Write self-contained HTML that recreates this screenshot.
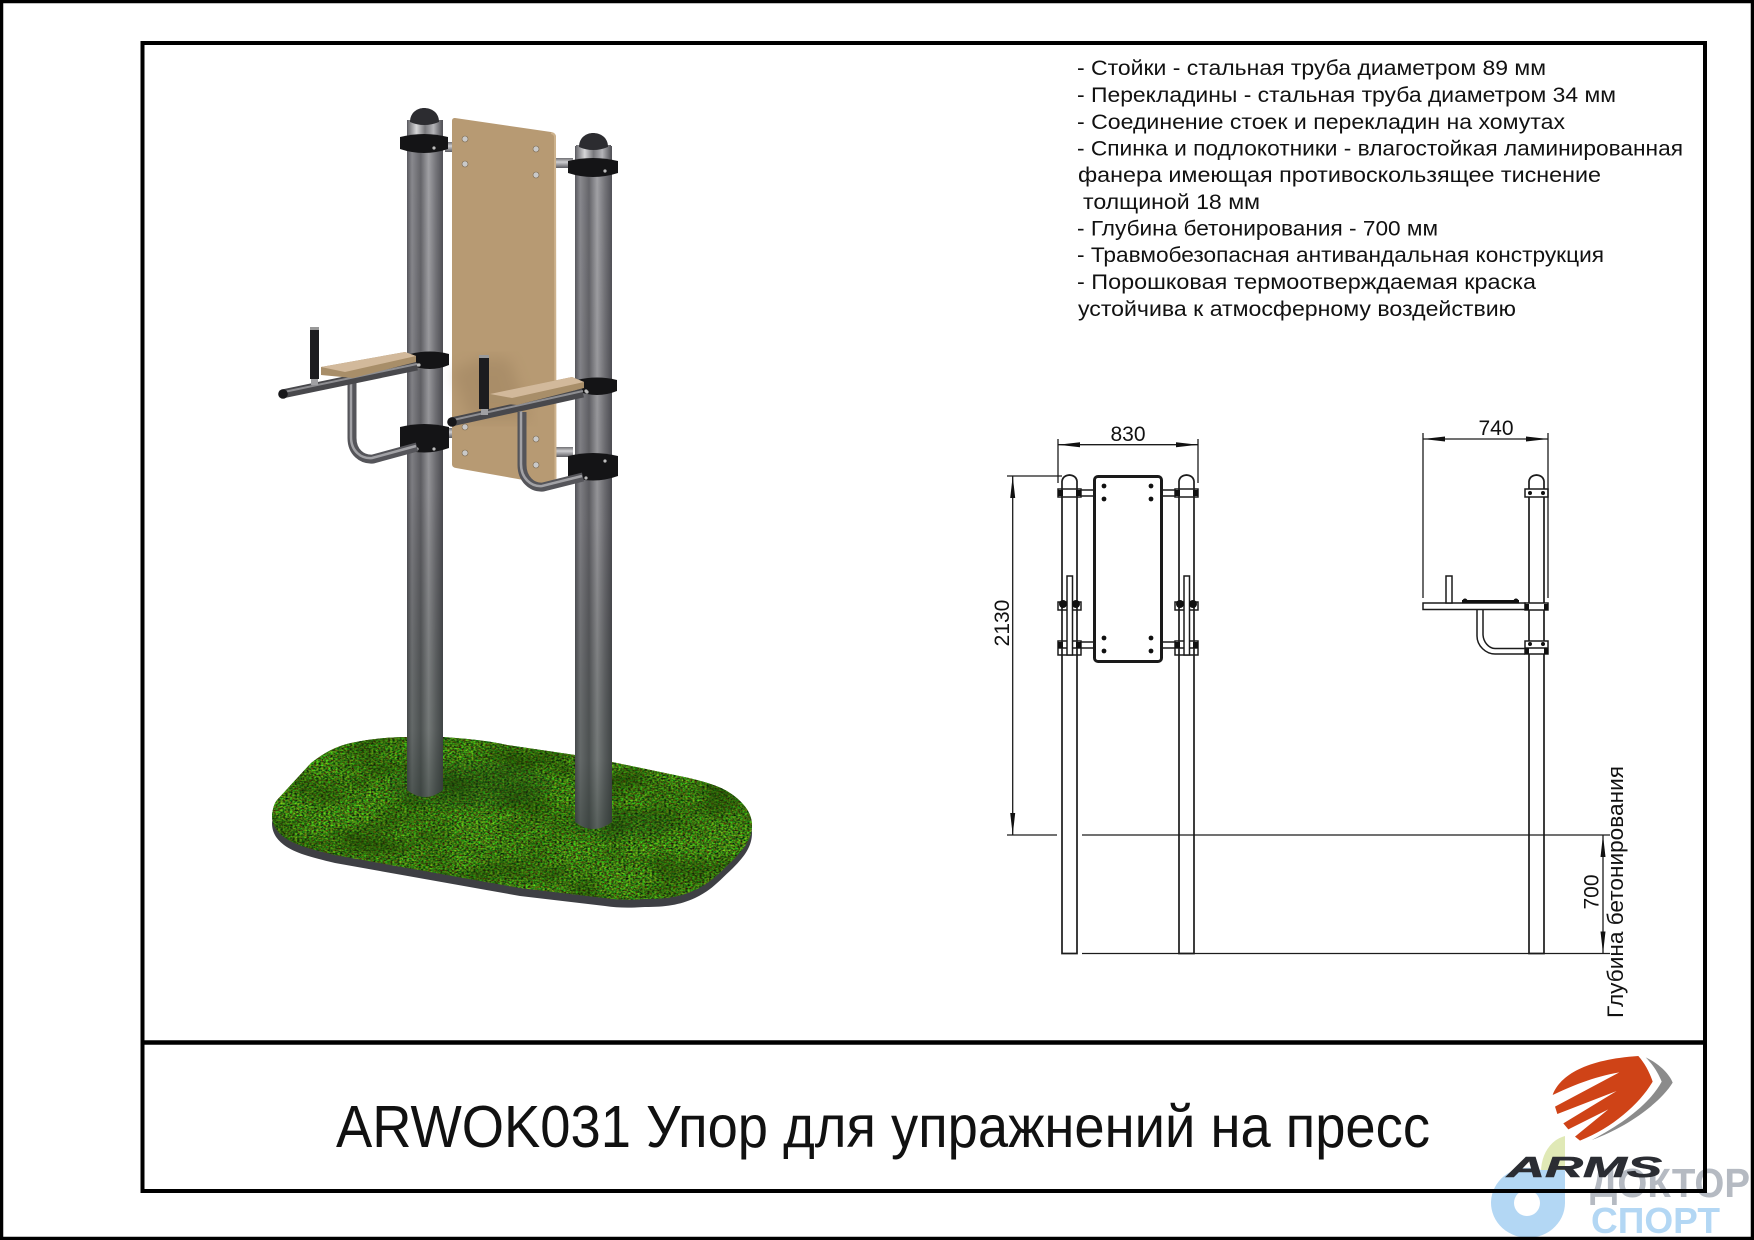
<!DOCTYPE html>
<html lang="ru"><head><meta charset="utf-8"><title>ARWOK031</title>
<style>html,body{margin:0;padding:0;background:#fff}svg{display:block}text{font-family:"Liberation Sans","DejaVu Sans",sans-serif;fill:#111}</style></head>
<body>
<svg xmlns="http://www.w3.org/2000/svg" width="1754" height="1240" viewBox="0 0 1754 1240">
<defs>
<linearGradient id="post" x1="0" x2="1" y1="0" y2="0">
<stop offset="0" stop-color="#5a5a60"/><stop offset=".14" stop-color="#8a8a8f"/><stop offset=".38" stop-color="#66666b"/><stop offset=".6" stop-color="#a2a2a6"/><stop offset=".8" stop-color="#76767b"/><stop offset="1" stop-color="#525258"/>
</linearGradient>
<linearGradient id="fade" x1="0" x2="0" y1="0" y2="1">
<stop offset="0" stop-color="#000" stop-opacity="0"/><stop offset=".55" stop-color="#000" stop-opacity=".1"/><stop offset=".9" stop-color="#1c2a20" stop-opacity=".35"/><stop offset="1" stop-color="#1c2a20" stop-opacity=".55"/>
</linearGradient>
<linearGradient id="shine" x1="0" x2="1" y1="0" y2="0">
<stop offset="0" stop-color="#6c6c70"/><stop offset=".25" stop-color="#d6d6d8"/><stop offset=".5" stop-color="#77777b"/><stop offset=".75" stop-color="#b4b4b8"/><stop offset="1" stop-color="#55555a"/>
</linearGradient>
<linearGradient id="link" x1="0" x2="0" y1="0" y2="1">
<stop offset="0" stop-color="#6f6f73"/><stop offset=".4" stop-color="#cfcfd2"/><stop offset="1" stop-color="#5b5b60"/>
</linearGradient>
<filter id="grassF" x="0" y="0" width="100%" height="100%" color-interpolation-filters="sRGB">
<feTurbulence type="fractalNoise" baseFrequency="0.42 0.6" numOctaves="3" seed="7"/>
<feColorMatrix type="matrix" values=".75 .45 0 0 -.36  0 1.35 0 0 -.2  0 .1 0 0 .02  0 0 0 0 1"/>
</filter>
<filter id="blotF" x="0" y="0" width="100%" height="100%" color-interpolation-filters="sRGB">
<feTurbulence type="fractalNoise" baseFrequency="0.02 0.035" numOctaves="2" seed="4"/>
<feColorMatrix type="matrix" values="0 0 0 0 .1  0 0 0 0 .22  0 0 0 0 0  2.4 0 0 0 -.95"/>
</filter>
<filter id="soft"><feGaussianBlur stdDeviation="7"/></filter>
<clipPath id="grassClip"><path id="grassP" d="M409,737 L443,737 C470,739 490,741 507,745 L575,755 L612,762 L689,778 C705,782 720,786 730,793 C742,801 752,812 752,825 C752,838 745,848 733,860 C720,872 712,882 695,890 C680,897 665,899 645,899 C630,900 618,900 605,898 L520,888 L419,870 L335,855 C310,849 295,845 284,837 C275,830 272,823 272,815 C273,808 274,804 277,800 L311,763 C325,752 337,746 351,743 C370,739 390,737 409,737 Z"/></clipPath>
</defs>

<rect width="1754" height="1240" fill="#fff"/>

<!-- watermark -->
<g>
<path d="M1541,1172 C1541,1155 1550,1140 1565,1136 V1172 Z" fill="#e0e9b6"/>
<path fill-rule="evenodd" fill="#b3d7f4" d="M1565,1170 V1203 A37,35 0 1 1 1541,1170 Z M1527,1190 A13,13 0 1 0 1527,1216 A13,13 0 1 0 1527,1190 Z"/>
<text x="1590" y="1197" font-size="41" font-weight="bold" textLength="160" lengthAdjust="spacingAndGlyphs" style="fill:#b5bac2">ДОКТОР</text>
<text x="1591" y="1233" font-size="36" font-weight="bold" textLength="129" lengthAdjust="spacingAndGlyphs" style="fill:#b3d7f4">СПОРТ</text>
</g>

<!-- frames -->
<rect x="1.5" y="1.5" width="1751" height="1237" fill="none" stroke="#000" stroke-width="3.5"/>
<rect x="142.5" y="43" width="1562.5" height="1148" fill="none" stroke="#000" stroke-width="4"/>
<line x1="142" y1="1042.5" x2="1706" y2="1042.5" stroke="#000" stroke-width="4.5"/>

<!-- spec text -->
<g font-size="21">
<text x="1077" y="75" textLength="469" lengthAdjust="spacingAndGlyphs">- Стойки - стальная труба диаметром 89 мм</text>
<text x="1077" y="102" textLength="539" lengthAdjust="spacingAndGlyphs">- Перекладины - стальная труба диаметром 34 мм</text>
<text x="1077" y="129" textLength="488" lengthAdjust="spacingAndGlyphs">- Соединение стоек и перекладин на хомутах</text>
<text x="1077" y="155.500" textLength="606" lengthAdjust="spacingAndGlyphs">- Спинка и подлокотники - влагостойкая ламинированная</text>
<text x="1078" y="182" textLength="523" lengthAdjust="spacingAndGlyphs">фанера имеющая противоскользящее тиснение</text>
<text x="1083" y="209" textLength="177" lengthAdjust="spacingAndGlyphs">толщиной 18 мм</text>
<text x="1077" y="235.500" textLength="361" lengthAdjust="spacingAndGlyphs">- Глубина бетонирования - 700 мм</text>
<text x="1077" y="262" textLength="527" lengthAdjust="spacingAndGlyphs">- Травмобезопасная антивандальная конструкция</text>
<text x="1077" y="289" textLength="459" lengthAdjust="spacingAndGlyphs">- Порошковая термоотверждаемая краска</text>
<text x="1078" y="316" textLength="438" lengthAdjust="spacingAndGlyphs">устойчива к атмосферному воздействию</text>
</g>

<!-- title -->
<text x="336" y="1147" font-size="59" textLength="1094" lengthAdjust="spacingAndGlyphs">ARWOK031 Упор для упражнений на пресс</text>

<!-- logo -->
<g transform="translate(1480,1040) scale(.33333)">
<path fill="#8b8b8b" d="M497,52 C540,72 570,105 578,128 C540,190 440,262 335,300 C430,250 510,190 545,125 C535,100 520,75 497,52 Z"/>
<path fill="#cf4317" d="M218,165 C240,105 320,58 475,48 C495,70 510,100 518,125 C480,190 400,262 300,302 L285,290 L385,208 L265,268 L250,250 L410,153 L232,222 L225,200 L418,97 C340,110 270,140 218,165 Z"/>
</g>
<text x="1507" y="1177" font-size="29" font-weight="bold" font-style="italic" textLength="155" lengthAdjust="spacingAndGlyphs" style="fill:#2b2d33;stroke:#2b2d33;stroke-width:.6">ARMS</text>

<!-- grass -->
<use href="#grassP" transform="translate(0,8)" fill="#3e3f44"/>
<g clip-path="url(#grassClip)">
<rect x="265" y="730" width="495" height="175" fill="#3f7a14"/>
<rect x="265" y="730" width="495" height="175" filter="url(#grassF)"/>
<rect x="265" y="730" width="495" height="175" filter="url(#blotF)" opacity=".55"/>
<ellipse cx="470" cy="785" rx="85" ry="24" fill="#123a08" opacity=".35" filter="url(#soft)"/>
<ellipse cx="620" cy="825" rx="55" ry="14" fill="#123a08" opacity=".3" filter="url(#soft)"/>
</g>

<!-- posts -->
<path d="M407,120 H443 V790 Q425,804 407,790 Z" fill="url(#post)"/>
<path d="M407,120 H443 V790 Q425,804 407,790 Z" fill="url(#fade)"/>
<path d="M575,146 H612 V822 Q593,836 575,822 Z" fill="url(#post)"/>
<path d="M575,146 H612 V822 Q593,836 575,822 Z" fill="url(#fade)"/>
<rect x="408" y="120" width="34" height="16" fill="url(#shine)"/>
<rect x="576" y="145" width="35" height="15" fill="url(#shine)"/>
<path d="M410,122 C410,112 418,108 424,108 C431,108 439,112 439,122 Q424,128 410,122 Z" fill="#2c2c30"/>
<path d="M579,147 C579,137 587,133 593,133 C600,133 608,137 608,147 Q593,153 579,147 Z" fill="#2c2c30"/>

<!-- connectors behind board -->
<g fill="url(#link)">
<rect x="445" y="142" width="10" height="10"/>
<rect x="553" y="158" width="20" height="10"/>
<rect x="445" y="428" width="10" height="10"/>
<rect x="553" y="447" width="20" height="10"/>
</g>

<!-- board -->
<path d="M455,118 L551,132 C554,132.500 556,134 556,137 L556,482 C556,484.500 555,485.500 552,485 L456,468 C453,467.500 452,466 452,464 L452,121 C452,119 453,118 455,118 Z" fill="#b79a73"/>
<path d="M551,133 C553.500,133.500 555,135 555,137 L555.500,483" fill="none" stroke="#cdb28d" stroke-width="2"/>
<g fill="#c9c9c9" stroke="#7d6a50" stroke-width=".6">
<circle cx="465" cy="139" r="3"/><circle cx="536" cy="149" r="3"/><circle cx="465" cy="164" r="3"/><circle cx="536" cy="175" r="3"/>
<circle cx="465" cy="427" r="3"/><circle cx="536" cy="439" r="3"/><circle cx="465" cy="453" r="3"/><circle cx="536" cy="465" r="3"/>
</g>
<path d="M452,372 C470,360 490,355 510,360 L530,420 L470,420 Z" fill="#7c6445" opacity=".22" filter="url(#soft)"/>

<!-- clamps -->
<g fill="#141416">
<path d="M400,137 Q424,131 448,137 V149 Q424,157 400,149 Z"/>
<path d="M568,161 Q593,155 618,161 V173 Q593,181 568,173 Z"/>
<path d="M410,354 Q430,349 449,354 V365 Q430,373 410,365 Z"/>
<path d="M577,380 Q597,375 617,380 V391 Q597,399 577,391 Z"/>
<path d="M400,427 Q424,421 449,427 V448 Q424,457 400,448 Z"/>
<path d="M568,456 Q593,450 618,456 V476 Q593,485 568,476 Z"/>
</g>
<g fill="#bdbdbd">
<circle cx="434" cy="148" r="1.6"/><circle cx="605" cy="171" r="1.6"/><circle cx="418" cy="365" r="1.6"/><circle cx="586" cy="391" r="1.6"/><circle cx="434" cy="449" r="1.6"/><circle cx="417" cy="449" r="1.6"/><circle cx="586" cy="478" r="1.6"/><circle cx="605" cy="461" r="1.6"/>
</g>

<!-- left arm -->
<g fill="none" stroke-linecap="butt">
<path d="M352,383 V438 C352,452 362,460 373,459 L417,447" stroke="#55555a" stroke-width="9"/>
<path d="M352,383 V438 C352,452 362,460 373,459 L417,447" stroke="#a2a2a6" stroke-width="2.500" transform="translate(-1,-1)"/>
<path d="M282,394 L417,366" stroke="#48484c" stroke-width="9"/>
<path d="M284,392 L417,364" stroke="#8e8e92" stroke-width="2"/>
</g>
<rect x="310" y="329" width="9" height="50" fill="#1c1c1f"/>
<rect x="310" y="327" width="9" height="3" fill="#999"/>
<rect x="311" y="379" width="7" height="6" fill="#a0a0a3"/>
<circle cx="283" cy="394" r="4.800" fill="#17171a"/>
<path d="M321,367 L405,352 L416,356 L416,362 L353,378 L321,375 Z" fill="#a88e69"/>
<path d="M321,367 L405,352 L416,356 L345,372 Z" fill="#d2b99b"/>

<!-- right arm -->
<g fill="none">
<path d="M522,412 V465 C522,479 532,488 543,487 L583,477" stroke="#55555a" stroke-width="9"/>
<path d="M522,412 V465 C522,479 532,488 543,487 L583,477" stroke="#a2a2a6" stroke-width="2.500" transform="translate(-1,-1)"/>
<path d="M451,422 L583,393" stroke="#48484c" stroke-width="9"/>
<path d="M453,420 L583,391" stroke="#8e8e92" stroke-width="2"/>
</g>
<rect x="479" y="357" width="10" height="52" fill="#1c1c1f"/>
<rect x="479" y="355" width="10" height="3" fill="#999"/>
<rect x="481" y="409" width="7" height="6" fill="#a0a0a3"/>
<circle cx="452" cy="422" r="4.800" fill="#17171a"/>
<path d="M490,394 L572,377 L584,382 L584,388 L517,405 L490,402 Z" fill="#a88e69"/>
<path d="M490,394 L572,377 L584,382 L512,398 Z" fill="#d2b99b"/>
<g fill="#bdbdbd"><circle cx="419" cy="365" r="1.6"/><circle cx="587" cy="392" r="1.600"/></g>

<!-- technical drawings -->
<g fill="none" stroke="#1c1c1c" stroke-width="1.500">
<!-- front view posts -->
<path d="M1062,481 V953.500 H1077 V481 M1179,481 V953.500 H1194 V481" stroke-width="1.700"/>
<path d="M1062,481 Q1063,475.500 1069.500,475 Q1076,475.500 1077,481 M1179,481 Q1180,475.500 1186.500,475 Q1193,475.500 1194,481" stroke-width="1.700"/>
<!-- board -->
<rect x="1094.500" y="476.500" width="67" height="185" rx="3.500" stroke="#1a1a1a" stroke-width="3"/>
<!-- links -->
<path d="M1081,490 H1094 M1081,496 H1094 M1162,490 H1175 M1162,496 H1175 M1081,642 H1094 M1081,648 H1094 M1162,642 H1175 M1162,648 H1175"/>
<!-- clamps -->
<rect x="1058" y="489" width="23" height="8"/><rect x="1175" y="489" width="23" height="8"/>
<rect x="1058" y="602" width="23" height="8"/><rect x="1175" y="602" width="23" height="8"/>
<rect x="1058" y="641" width="23" height="14"/><rect x="1175" y="641" width="23" height="14"/>
<line x1="1058" y1="648" x2="1081" y2="648"/><line x1="1175" y1="648" x2="1198" y2="648"/>
<!-- handles -->
<rect x="1067" y="576" width="5.500" height="79" fill="#fff"/><rect x="1184" y="576" width="5.500" height="79" fill="#fff"/>
<!-- side view -->
<path d="M1529,481 V953.500 H1544 V481" stroke-width="1.700"/>
<path d="M1529,481 Q1530,475.500 1536.500,475 Q1543,475.500 1544,481" stroke-width="1.700"/>
<rect x="1525" y="489" width="23" height="8" fill="#fff"/>
<rect x="1525" y="603" width="23" height="7" fill="#fff"/>
<rect x="1525" y="641" width="23" height="13" fill="#fff"/>
<line x1="1525" y1="648" x2="1548" y2="648"/>
<rect x="1423" y="603" width="102" height="6.500" fill="#fff"/>
<rect x="1446" y="576" width="6" height="27" fill="#fff"/>
<path d="M1477,609.500 V636 C1477,646 1486,654 1495,654 H1525 M1483,609.500 V634 C1483,642 1489,648.500 1495,648.500 H1525"/>
</g>
<g fill="#111">
<g>
<rect x="1058" y="490" width="5" height="6"/><rect x="1076" y="490" width="5" height="6"/><rect x="1175" y="490" width="5" height="6"/><rect x="1193" y="490" width="5" height="6"/>
<circle cx="1063" cy="604" r="4"/><circle cx="1076" cy="604" r="4"/><circle cx="1180" cy="604" r="4"/><circle cx="1193" cy="604" r="4"/>
<rect x="1058" y="642" width="5" height="6"/><rect x="1076" y="642" width="5" height="6"/><rect x="1175" y="642" width="5" height="6"/><rect x="1193" y="642" width="5" height="6"/>
</g>
<circle cx="1104" cy="486" r="2.400"/><circle cx="1151" cy="486" r="2.400"/><circle cx="1104" cy="499" r="2.400"/><circle cx="1151" cy="499" r="2.400"/>
<circle cx="1104" cy="638" r="2.400"/><circle cx="1151" cy="638" r="2.400"/><circle cx="1104" cy="651" r="2.400"/><circle cx="1151" cy="651" r="2.400"/>
<rect x="1462" y="600" width="57" height="3.500"/><circle cx="1465" cy="601" r="2.500"/><circle cx="1516" cy="601" r="2.500"/>
<rect x="1525" y="604" width="4" height="6"/><rect x="1544" y="604" width="4" height="6"/>
<rect x="1525" y="648" width="4" height="6"/><rect x="1544" y="648" width="4" height="6"/>
<circle cx="1530" cy="493" r="2"/><circle cx="1543" cy="493" r="2"/><circle cx="1530" cy="644" r="2"/><circle cx="1543" cy="644" r="2"/>
</g>

<!-- dimensions -->
<g stroke="#1c1c1c" stroke-width="1.300" fill="none">
<path d="M1058,439 V483 M1198,439 V483 M1058,444.700 H1198"/>
<path d="M1423,433 V598 M1548,433 V598 M1423,439 H1548"/>
<path d="M1007,476 H1062 M1012.700,476 V835"/>
<path d="M1007,835 H1057 M1082,835 H1610 M1082,953.500 H1610 M1603,835 V953.500"/>
</g>
<g fill="#111">
<polygon points="1058,444.700 1080,442.200 1080,447.200"/><polygon points="1198,444.700 1176,442.200 1176,447.200"/>
<polygon points="1423,439 1445,436.500 1445,441.500"/><polygon points="1548,439 1526,436.500 1526,441.500"/>
<polygon points="1012.700,476 1010.200,498 1015.200,498"/><polygon points="1012.700,835 1010.200,813 1015.200,813"/>
<polygon points="1603,835 1600.500,857 1605.500,857"/><polygon points="1603,953.500 1600.500,931.500 1605.500,931.500"/>
</g>
<g font-size="21">
<text x="1128" y="441" text-anchor="middle">830</text>
<text x="1496" y="435" text-anchor="middle">740</text>
<text transform="translate(1009,623) rotate(-90)" text-anchor="middle">2130</text>
<text transform="translate(1598.500,892) rotate(-90)" text-anchor="middle">700</text>
<text transform="translate(1623,1018) rotate(-90)" font-size="22" textLength="252" lengthAdjust="spacingAndGlyphs">Глубина бетонирования</text>
</g>
</svg>
</body></html>
